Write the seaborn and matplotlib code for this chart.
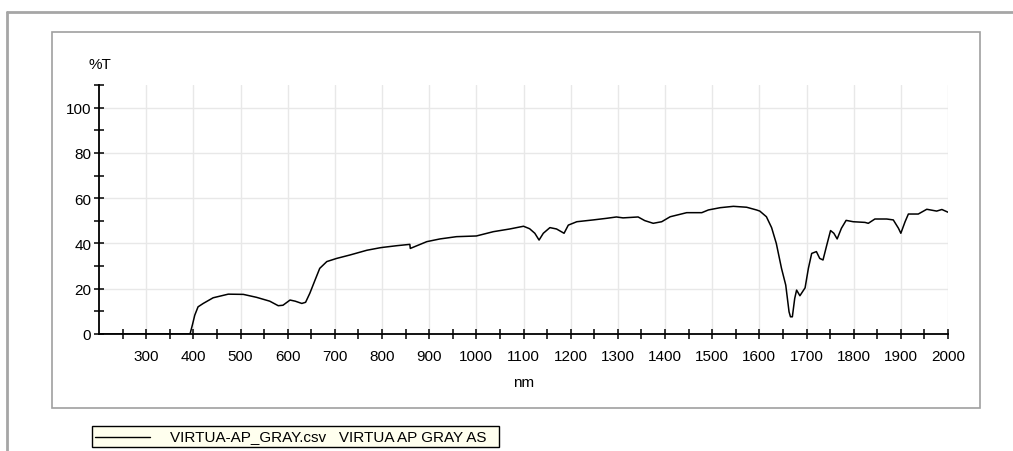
import numpy as np
import pandas as pd
import matplotlib
matplotlib.use('Agg')
import matplotlib.pyplot as plt
from matplotlib.patches import Rectangle
from matplotlib.lines import Line2D
import seaborn as sns

# ── data ───────────────────────────────────────────────
wavelength = [200, 300, 393, 398, 403, 410, 421, 442, 474, 506, 534, 562, 580, 590,
              605, 616, 630, 638, 647, 658, 668, 683, 704, 732, 768, 796, 803, 831,
              859, 860, 895, 923, 958, 1000, 1036, 1071, 1100, 1113, 1124, 1133,
              1142, 1156, 1170, 1186, 1195, 1213, 1248, 1276, 1297, 1311, 1343,
              1357, 1375, 1393, 1411, 1446, 1478, 1492, 1517, 1545, 1573, 1594,
              1601, 1615, 1626, 1636, 1647, 1656, 1663, 1666, 1670, 1675, 1679,
              1686, 1697, 1704, 1711, 1721, 1728, 1735, 1743, 1751, 1758, 1765,
              1774, 1784, 1799, 1824, 1831, 1845, 1870, 1884, 1895, 1900, 1909,
              1916, 1937, 1955, 1976, 1987, 2000]
transmittance = [0.0, 0.0, 0.0, 4.0, 8.3, 12.0, 13.5, 16.0, 17.6, 17.5, 16.2, 14.5,
                 12.5, 12.7, 15.0, 14.5, 13.5, 14.0, 18.0, 23.8, 29.0, 32.0, 33.4,
                 34.9, 37.0, 38.1, 38.3, 39.0, 39.6, 37.8, 40.8, 42.0, 43.0, 43.3,
                 45.2, 46.4, 47.6, 46.5, 44.5, 41.5, 44.5, 47.0, 46.4, 44.5, 48.1,
                 49.6, 50.4, 51.1, 51.7, 51.3, 51.7, 50.1, 48.9, 49.6, 51.8, 53.6,
                 53.6, 54.8, 55.8, 56.4, 56.0, 54.8, 54.3, 51.8, 47.0, 40.0, 29.0,
                 21.6, 9.8, 7.6, 7.6, 15.7, 19.4, 16.9, 20.4, 29.0, 35.6, 36.4, 33.4,
                 32.7, 39.3, 45.7, 44.5, 42.0, 46.7, 50.2, 49.6, 49.3, 48.9, 50.8,
                 50.8, 50.4, 46.7, 44.5, 49.6, 53.0, 53.0, 55.1, 54.3, 55.0, 53.8]
x_labels = [str(v) for v in range(300, 2001, 100)]
y_labels = ['0', '20', '40', '60', '80', '100']
series_name = 'VIRTUA-AP_GRAY.csv   VIRTUA AP GRAY AS'

df = pd.DataFrame({'nm': wavelength, 'T': transmittance})

sns.set_theme(style='white')
plt.rcParams['font.family'] = ['Liberation Sans', 'DejaVu Sans']

W, H = 1013, 452
fig = plt.figure(figsize=(W / 100, H / 100), dpi=100)
fig.patch.set_facecolor('white')


def fx(px):
    return px / W


def fy(py):
    return 1 - py / H


# outer frame (only top / left edges visible)
fig.add_artist(Line2D([fx(7), fx(W)], [fy(13), fy(13)], color='#a6a6a6', lw=2.0))
fig.add_artist(Line2D([fx(7), fx(7)], [fy(13), 0], color='#a6a6a6', lw=2.0))

# inner frame
fig.add_artist(Rectangle((fx(52), fy(409)), fx(980) - fx(52), fy(33) - fy(409),
                         transform=fig.transFigure, fill=False,
                         edgecolor='#a0a0a0', lw=1.2))

ax = fig.add_axes([fx(99), fy(335), fx(948) - fx(99), fy(86) - fy(335)])
ax.set_facecolor('none')

sns.lineplot(data=df, x='nm', y='T', ax=ax, color='black', linewidth=1.1,
             estimator=None, sort=False, legend=False)

ax.set_xlim(200, 2000)
ax.set_ylim(0, 110)

ax.set_xticks(range(300, 2001, 100))
ax.set_xticklabels(x_labels)
ax.set_xticks(range(250, 2001, 50), minor=True)
ax.set_yticks(range(0, 101, 20))
ax.set_yticklabels(y_labels)
ax.set_yticks(range(10, 111, 20), minor=True)

ax.grid(True, which='major', color='#e8e8e8', lw=1.0)
ax.set_axisbelow(True)

for s in ['top', 'right']:
    ax.spines[s].set_visible(False)
for s in ['left', 'bottom']:
    ax.spines[s].set_color('black')
    ax.spines[s].set_linewidth(1.3)

ax.tick_params(axis='both', which='both', direction='inout', length=7,
               width=1.1, color='black', labelsize=11, labelcolor='black',
               bottom=True, left=True)
ax.tick_params(axis='x', which='both', pad=7)
ax.tick_params(axis='y', which='both', pad=2)

ax.set_xlabel('nm', fontsize=11, labelpad=9, color='black')
ax.set_ylabel('')
fig.text(fx(100), fy(65), '%T', ha='center', va='center', fontsize=11, color='black')

# legend box
fig.add_artist(Rectangle((fx(92), fy(448)), fx(499) - fx(92), fy(427) - fy(448),
                         transform=fig.transFigure, facecolor='#ffffee',
                         edgecolor='black', lw=1.0))
fig.add_artist(Line2D([fx(95), fx(150)], [fy(437.5), fy(437.5)], color='black', lw=1.0))
fig.text(fx(170), fy(437.5), series_name, ha='left', va='center', fontsize=11,
         color='black')

fig.savefig('out.png', dpi=100)
